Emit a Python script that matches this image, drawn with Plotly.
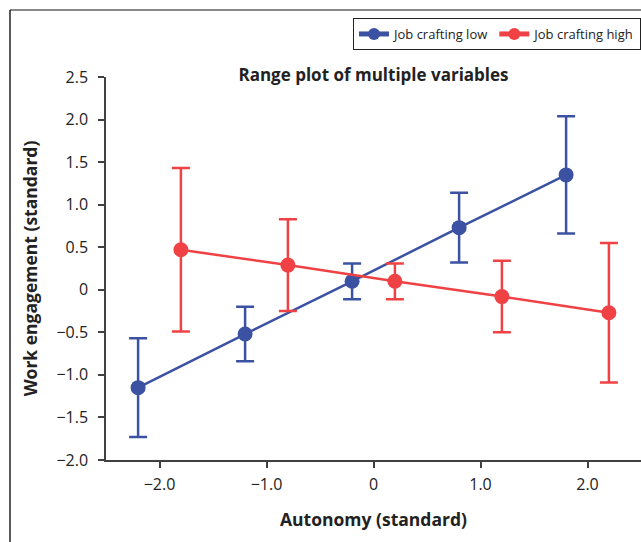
import plotly.graph_objects as go

x_low = [-2.2, -1.2, -0.2, 0.8, 1.8]
y_low = [-1.15, -0.52, 0.10, 0.73, 1.35]
err_low = [0.58, 0.32, 0.21, 0.41, 0.69]

x_high = [-1.8, -0.8, 0.2, 1.2, 2.2]
y_high = [0.47, 0.29, 0.10, -0.08, -0.27]
err_high = [0.96, 0.54, 0.21, 0.42, 0.82]

x_tickvals = [-2, -1, 0, 1, 2]
x_ticktext = ["\u22122.0", "\u22121.0", "0", "1.0", "2.0"]
y_tickvals = [2.5, 2.0, 1.5, 1.0, 0.5, 0, -0.5, -1.0, -1.5, -2.0]
y_ticktext = ["2.5", "2.0", "1.5", "1.0", "0.5", "0", "\u22120.5", "\u22121.0", "\u22121.5", "\u22122.0"]

BLUE = "#3B52A3"
RED = "#F04245"
FONT = "Open Sans"
TXT = "#222222"

fig = go.Figure()
fig.add_trace(go.Scatter(
    x=x_low, y=y_low, mode="lines+markers", name="Job crafting low",
    line=dict(color=BLUE, width=2.5),
    marker=dict(color=BLUE, size=15),
    error_y=dict(type="data", array=err_low, color=BLUE, thickness=2.5, width=9),
))
fig.add_trace(go.Scatter(
    x=x_high, y=y_high, mode="lines+markers", name="Job crafting high",
    line=dict(color=RED, width=2.5),
    marker=dict(color=RED, size=15),
    error_y=dict(type="data", array=err_high, color=RED, thickness=2.5, width=9),
))

L, T, B = 106, 77, 82
W, H = 641, 542
pw = W - L
ph = H - T - B

def px(xp):
    return (xp - L) / pw

def py(yp):
    return 1 - (yp - T) / ph

fig.update_layout(
    width=W, height=H,
    margin=dict(l=L, r=0, t=T, b=B, autoexpand=False),
    paper_bgcolor="white", plot_bgcolor="white",
    font=dict(family=FONT, size=14, color=TXT),
    showlegend=True,
    legend=dict(
        orientation="h", x=1, xanchor="right", y=py(18), yanchor="top",
        bordercolor=TXT, borderwidth=1, bgcolor="white",
        font=dict(size=13, family=FONT, color=TXT),
        itemwidth=30, tracegroupgap=0, itemsizing="constant",
    ),
    title=dict(
        text="<b>Range plot of multiple variables</b>",
        x=0.5, xref="paper", xanchor="center",
        y=1 - 75 / H, yref="container", yanchor="middle",
        font=dict(size=17, family=FONT, color=TXT),
    ),
    xaxis=dict(
        range=[-2.5, 2.5], tickvals=x_tickvals, ticktext=x_ticktext,
        showgrid=False, zeroline=False, showline=True, linecolor="#404040", linewidth=1.5,
        ticks="outside", ticklen=6, tickcolor="#404040", tickwidth=1.5,
        tickfont=dict(size=16), ticklabelstandoff=3,
        title=dict(text="<b>Autonomy (standard)</b>", font=dict(size=17.5), standoff=20),
    ),
    yaxis=dict(
        range=[-2.0, 2.5], tickvals=y_tickvals, ticktext=y_ticktext,
        showgrid=False, zeroline=False, showline=True, linecolor="#404040", linewidth=1.5,
        ticks="outside", ticklen=6, tickcolor="#404040", tickwidth=1.5,
        tickfont=dict(size=16), ticklabelstandoff=7,
        title=dict(text="<b>Work engagement (standard)</b>", font=dict(size=17.5), standoff=14),
    ),
    shapes=[
        dict(type="line", xref="paper", yref="paper", x0=px(10), x1=px(W + 5), y0=py(10), y1=py(10),
             line=dict(color="#888888", width=2)),
        dict(type="line", xref="paper", yref="paper", x0=px(10), x1=px(10), y0=py(10), y1=py(H + 5),
             line=dict(color=TXT, width=1.5)),
    ],
)

fig.write_html("out.html", config={"displayModeBar": False},
               post_script="document.body.style.margin='0px';")
